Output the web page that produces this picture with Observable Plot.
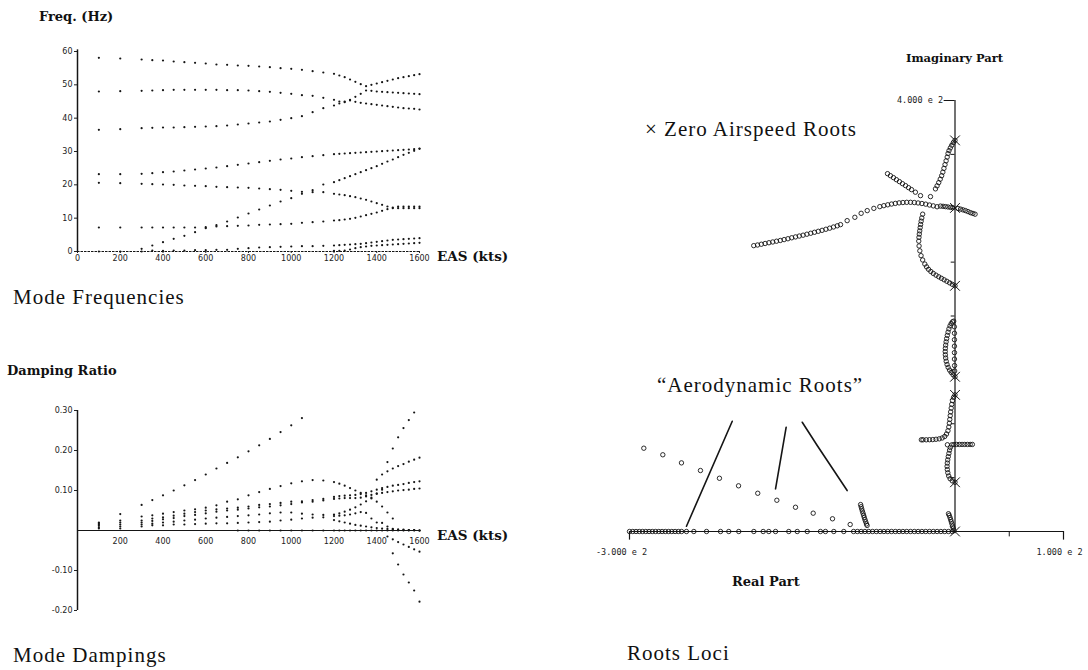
<!DOCTYPE html>
<html><head><meta charset="utf-8">
<script src="https://cdn.jsdelivr.net/npm/d3@7"></script>
<script src="https://cdn.jsdelivr.net/npm/@observablehq/plot@0.6"></script>
<style>
html,body{margin:0;padding:0;background:#fff;}
#page{position:relative;width:1088px;height:670px;overflow:hidden;background:#fff;}
#page > svg{position:absolute;}
</style></head><body><div id="page"></div>
<script>
// ---------- shared airspeeds (kts) ----------
const speeds = [100,200,300,350,400,450,500,550,600,650,700,750,800,850,900,950,1000,1050,1100,1150,
  1200,1225,1250,1275,1300,1325,1350,1375,1400,1425,1450,1475,1500,1525,1550,1575,1600];
const easTicks = [0,200,400,600,800,1000,1200,1400,1600];
const easTicksDamp = [200,400,600,800,1000,1200,1400,1600];

// ---------- mode frequencies (Hz) ----------
const freqA = [58.1,57.9,57.6,57.4,57.3,57.0,56.8,56.6,56.4,56.1,56.0,55.8,55.7,55.5,55.3,55.0,54.8,54.5,54.1,53.7,
  53.3,52.8,52.3,51.6,50.9,50.2,49.6,50.0,50.4,50.8,51.2,51.6,52.0,52.3,52.6,52.9,53.2];
const freqB = [48.0,48.1,48.2,48.3,48.4,48.5,48.5,48.5,48.5,48.5,48.4,48.4,48.3,48.1,47.9,47.6,47.3,46.9,46.7,46.1,
  45.5,45.0,44.8,45.5,46.4,47.3,48.3,48.2,48.0,47.9,47.8,47.7,47.6,47.5,47.4,47.3,47.2];
const freqC = [36.5,36.7,37.0,37.1,37.2,37.2,37.3,37.4,37.5,37.6,37.8,38.1,38.4,38.7,39.0,39.5,40.0,40.6,41.8,43.0,
  43.8,44.4,45.0,45.3,44.9,44.6,44.4,44.2,44.0,43.8,43.6,43.4,43.2,43.0,42.9,42.8,42.6];
const freqD = [23.2,23.2,23.3,23.5,23.8,24.0,24.3,24.6,24.9,25.2,25.6,26.0,26.4,26.8,27.2,27.6,27.9,28.3,28.6,28.9,
  29.2,29.3,29.4,29.5,29.6,29.7,29.8,29.9,30.0,30.1,30.2,30.3,30.4,30.5,30.6,30.7,30.9];
const freqE = [20.6,20.5,20.3,20.2,20.1,20.0,19.8,19.7,19.6,19.4,19.3,19.2,19.1,18.9,18.7,18.5,18.2,17.9,17.8,17.8,
  17.3,17.1,16.9,16.6,16.3,15.9,15.5,15.0,14.5,14.0,13.5,13.0,13.0,13.0,13.0,13.0,13.0];
const freqF = [null,null,0.8,1.8,2.8,3.8,4.7,5.8,7.0,7.9,9.0,10.2,11.4,12.6,13.8,15.0,16.0,17.3,18.4,20.1,
  20.8,21.4,22.0,22.6,23.2,23.8,24.4,25.0,25.6,26.3,27.0,27.6,28.3,29.0,29.6,30.2,30.8];
const freqG = [7.2,7.2,7.2,7.2,7.2,7.2,7.2,7.2,7.3,7.5,7.6,7.7,7.8,8.0,8.1,8.2,8.3,8.6,8.8,9.0,
  9.3,9.4,9.6,9.8,10.1,10.5,10.9,11.3,11.7,12.2,12.7,13.2,13.5,13.5,13.5,13.5,13.5];
const freqH = [0.0,0.0,0.0,0.3,0.2,0.3,0.3,0.4,0.4,0.5,0.5,0.8,1.0,1.2,1.3,1.4,1.5,1.6,1.6,1.7,
  1.8,1.9,2.0,2.1,2.2,2.3,2.5,2.7,2.9,3.1,3.3,3.5,3.6,3.7,3.8,3.9,4.0];
const freqI = [null,null,null,null,null,null,null,null,null,null,null,null,null,null,null,null,null,null,null,null,
  0.2,0.2,0.3,0.6,1.0,1.3,1.5,1.7,1.8,1.9,2.0,2.1,2.2,2.3,2.4,2.5,2.6];
const freqTicks = [0,10,20,30,40,50,60];

// ---------- mode damping ratios ----------
const damp1 = [0.020,0.041,0.064,0.076,0.088,0.100,0.113,0.126,0.140,0.155,0.169,0.183,0.198,0.213,0.229,0.246,0.263,0.281,null,null,
  null,null,null,null,null,null,null,null,null,null,null,null,null,null,null,null,null];
const damp2 = [0.018,0.025,0.035,0.038,0.042,0.046,0.050,0.053,0.057,0.063,0.072,0.078,0.088,0.096,0.104,0.111,0.118,0.123,0.126,0.125,
  0.121,0.117,0.112,0.106,0.100,0.094,0.088,0.080,0.072,0.060,0.045,0.030,null,null,null,null,null];
const damp3 = [0.015,0.020,0.025,0.030,0.033,0.037,0.042,0.046,0.050,0.053,0.055,0.057,0.060,0.064,0.066,0.069,0.072,0.073,0.076,0.079,
  0.084,0.086,0.087,0.088,0.089,0.091,0.094,0.098,0.102,0.106,0.109,0.112,0.114,0.116,0.119,0.121,0.123];
const damp4 = [0.012,0.015,0.020,0.024,0.028,0.031,0.036,0.039,0.043,0.047,0.050,0.052,0.055,0.058,0.060,0.063,0.066,0.070,0.072,0.075,
  0.079,0.080,0.081,0.081,0.081,0.082,0.085,0.089,0.092,0.094,0.096,0.098,0.100,0.101,0.102,0.104,0.105];
const damp5 = [0.008,0.010,0.015,0.017,0.020,0.022,0.025,0.027,0.030,0.032,0.034,0.036,0.038,0.040,0.043,0.045,0.045,0.042,0.040,0.039,
  0.040,0.043,0.047,0.052,0.058,0.065,0.073,0.082,0.092,0.102,null,null,null,null,null,null,null];
const damp6 = [0.005,0.005,0.010,0.013,0.013,0.015,0.015,0.016,0.017,0.018,0.018,0.019,0.020,0.021,0.022,0.025,0.027,0.030,0.032,0.033,
  0.036,0.037,0.038,0.040,0.043,0.046,0.044,0.030,0.020,0.019,0.010,0.004,0.002,0.001,0.001,0.001,0.000];
const damp7 = [null,null,null,null,null,null,null,null,null,null,null,null,null,null,null,null,null,null,null,null,
  0.026,0.023,0.020,0.017,0.014,0.012,0.010,0.008,0.006,0.005,0.004,0.003,0.002,0.002,0.001,0.001,0.000];
const dampZero = [null,null,null,null,null,null,null,null,null,null,null,0,0,0,0,0,0,0,0,0,
  0,0,0,0,0,0,0,0,0,0,0,0,0,0,0,0,0];
const dampUpper = [null,null,null,null,null,null,null,null,null,null,null,null,null,null,null,null,null,null,null,null,
  null,null,null,null,null,null,null,null,0.127,0.140,0.148,0.155,0.161,0.166,0.172,0.177,0.182];
const dampSteep = [null,null,null,null,null,null,null,null,null,null,null,null,null,null,null,null,null,null,null,null,
  null,null,null,null,null,null,null,null,null,null,0.171,0.205,0.233,0.256,0.276,0.295,null];
const dampNegGentle = [null,null,null,null,null,null,null,null,null,null,null,null,null,null,null,null,null,null,null,null,
  null,null,null,null,null,null,null,null,null,null,-0.015,-0.022,-0.029,-0.035,-0.041,-0.047,-0.053];
const dampNegSteep = [null,null,null,null,null,null,null,null,null,null,null,null,null,null,null,null,null,null,null,null,
  null,null,null,null,null,null,null,null,null,null,null,-0.057,-0.085,-0.110,-0.130,-0.150,-0.178];
const dampTicks = [-0.2,-0.1,0.1,0.2,0.3];
const dampTickLabels = ["-0.20","-0.10","0.10","0.20","0.30"];

// ---------- root loci (real, imaginary) ----------
const zeroAirspeedRoots = [363,300.3,228,143.6,126.8,45.7,0];
const branch1 = [[0,363],[-1.5,361],[-3,358.5],[-4.3,356],[-5.5,353.5],[-6.4,350.8],[-7.2,347.5],[-8.2,344],[-9.2,340.5],
  [-10.2,337],[-11.2,333.5],[-12.3,330.2],[-13.6,327],[-15,323.8],[-16.5,320.8],[-18,318],[-22.6,310.8]];
const branch2 = [[-62.2,332.1],[-59.5,330.2],[-56.7,328.4],[-54,326.5],[-51.2,324.7],[-48.4,322.8],[-45.6,321],
  [-42.8,319.1],[-40.1,317.3],[-36.5,314.9],[-31.8,311.7]];
const branch3 = [[-185.5,265.3],[-182,265.9],[-178.5,266.6],[-175,267.3],[-171.5,268.0],[-168,268.7],[-164.5,269.4],
  [-161,270.1],[-157.5,270.9],[-154,271.7],[-150.5,272.6],[-147,273.4],[-143.5,274.2],[-140,275.0],[-136.5,275.9],
  [-133,276.8],[-129.5,277.7],[-126,278.6],[-122.5,279.5],[-119,280.5],[-115.5,281.5],[-112,282.6],[-108.5,283.7],
  [-105.5,284.8],[-99.4,288.5],[-92.3,291.6],[-86.5,295.3],[-80.9,297.8],[-74.8,299.9],[-69.3,301.5],
  [-65.6,302.4],[-62,303.2],[-58.5,303.9],[-55,304.5],[-51.5,305],[-48,305.3],[-44.5,305.5],[-41,305.5],
  [-37.5,305.3],[-34,304.9],[-30.5,304.4],[-27,303.8],[-23.5,303.0],[-20,302.2],[-16.5,301.4]];
const branch4 = [[-13.4,302],[-11,301.8],[-8.8,301.5],[-6.5,301.2],[-4.1,300.8],[-2,300.5],[2.8,299.8],[5.1,299.2],
  [7.4,298.5],[9.7,297.8],[12,296.9],[14.3,295.9],[16.5,295.2],[18.5,294.5]];
const branch5 = [[0,228],[-2.5,229.4],[-5,230.8],[-7.5,232.2],[-10,233.6],[-12.5,235],[-15,236.4],[-17.5,237.9],
  [-20,239.5],[-22.3,241.3],[-24.4,243.3],[-26.2,245.6],[-27.8,248.2],[-29.8,252],[-31.3,256],[-32.4,260.5],
  [-33.1,265],[-33.4,269.5],[-33.2,273],[-32.9,276],[-32.5,279],[-32.1,282],[-31.7,285],[-31.2,288],[-30.6,291],[-29.8,294.5]];
const branch6 = [[0,143.6],[-1.8,145.5],[-3.5,147.6],[-5,149.8],[-6.3,152.3],[-7.3,155],[-8.1,158],[-8.6,161],[-8.9,164],
  [-9,167],[-8.9,170],[-8.6,173],[-8.2,176],[-7.7,179],[-7.1,182],[-6.4,185],[-5.6,188],[-4.6,190.8],[-3.5,193],
  [-2.3,194.6],[-1.2,195.2],[-0.6,190],[-0.5,184],[-0.5,178],[-0.5,172],[-0.5,166],[-0.5,160],[-0.4,154],[-0.3,149]];
const branch7 = [[0,126.8],[-1.3,124.5],[-2.3,121.5],[-3,118],[-3.5,114.5],[-4,111],[-4.4,107.5],[-4.8,104],[-5.2,100.5],
  [-5.7,97],[-6.5,93.5],[-7.8,90.5],[-9.5,88.2],[-11.8,86.8],[-14.5,86],[-17.5,85.6],[-20.5,85.3],[-23.5,85.2],
  [-26.5,85.1],[-29.5,85.1],[-31,85.1]];
const branch8 = [[0,45.7],[-2.5,47],[-4.5,49],[-5.8,51.5],[-6.6,54.5],[-7.1,57.5],[-7.3,60.5],[-7.1,63.5],[-6.7,66.5],
  [-6.2,69.5],[-5.6,72.5],[-5,75.5],[-4.3,78],[-7,80.5],[-3,80.4],[-1,80.7],[1.5,80.8],[4,80.8],[6.5,80.8],[9,80.8],
  [11.5,80.8],[14,80.8],[16,80.8]];
const branch9 = [[-1,1],[-1.6,3],[-2.2,5],[-2.8,7],[-3.4,9],[-4,11],[-4.6,13],[-5.3,15],[-6,16.5]];
const realAxisRoots = [-300,-297,-294,-291,-288,-285,-282,-279,-276,-273,-270,-267,-264,-261,-258,-255,-252,
  -247.5,-240.7,-229,-216.1,-208.5,-199.3,-185.4,-176.8,-171.6,-165.4,-153.2,-145.4,-136.2,-124,-119.4,-111.7,-102.5,
  -93.5,-90,-86.5,-83,-79.5,-76,-72.5,-69,-65.5,-62,-58.5,-55,-51.5,-48,-44.5,-41,-37.5,-34,-30.5,-27,-23.5,-20,
  -16.5,-13,-9.5,-6,-2.5];
const aeroRoots = [[-286.8,77.3],[-269.3,71.2],[-252.1,63.7],[-234.6,56.6],[-217.1,49.4],[-199.5,42.4],[-181.8,35.5],
  [-164.2,29.0],[-147,22.5],[-130.7,17.0],[-112.9,11.8],[-96.6,6.5]];
const aeroRootsDense = [[-87,25],[-86.5,23],[-86,21],[-85.4,19],[-84.8,17],[-84.2,15],[-83.6,13],[-83,11],[-82.3,9],
  [-81.6,7],[-81,5.6]];
const pointer1 = [[-205.3,102.3],[-247.5,4.9]];
const pointer2 = [[-155.6,96.8],[-165.4,39.6]];
const pointer3 = [[-140.8,101.4],[-127,79.8],[-99.4,38.0]];
const imTicks = [50,100,150,200,250,300,350];
const rootAxisLabels = ["-3.000 e 2","1.000 e 2","4.000 e 2"];

// ---------- build ----------
const page = document.getElementById("page");
const ink = "#151515";

function rowsFrom(seriesList, key) {
  return seriesList.flatMap(arr => arr.map((v, i) => ({eas: speeds[i], [key]: v})).filter(d => d[key] != null));
}
function place(el, left, top) { el.style.left = left + "px"; el.style.top = top + "px"; page.appendChild(el); }

const tickStyle = {fontFamily: "DejaVu Sans", fontSize: "8px", color: "#222", background: "transparent", overflow: "visible"};

// Panel 1: frequencies
const freqRows = rowsFrom([freqA,freqB,freqC,freqD,freqE,freqF,freqG,freqH,freqI], "f");
const freqPlot = Plot.plot({
  width: 530, height: 240, marginLeft: 77, marginRight: 111, marginTop: 11, marginBottom: 29,
  x: {domain: [0,1600]}, y: {domain: [0,60]},
  style: tickStyle,
  marks: [
    Plot.axisY({ticks: freqTicks, tickSize: 3, tickPadding: 2, label: null, tickFormat: d => String(d)}),
    Plot.axisX({ticks: easTicks, tickSize: 2, tickPadding: 2, label: null, tickFormat: d => String(d)}),
    Plot.ruleY([0], {x1: 0, x2: 1600, stroke: ink, strokeWidth: 1, strokeDasharray: "2.5,1"}),
    Plot.ruleX([0], {y1: 0, y2: 60.5, stroke: ink, strokeWidth: 1.5}),
    Plot.dot(freqRows, {x: "eas", y: "f", r: 1.1, fill: ink, stroke: "none"})
  ]
});
place(freqPlot, 0, 40);

// Panel 2: dampings
const dampRows = rowsFrom([damp1,damp2,damp3,damp4,damp5,damp6,damp7,dampZero,dampUpper,dampSteep,dampNegGentle,dampNegSteep], "z");
const dampPlot = Plot.plot({
  width: 530, height: 230, marginLeft: 77, marginRight: 111, marginTop: 15, marginBottom: 15,
  x: {domain: [0,1600], axis: null}, y: {domain: [-0.2,0.3]},
  style: tickStyle,
  marks: [
    Plot.axisY({ticks: dampTicks, tickSize: 3, tickPadding: 2, label: null,
      tickFormat: d => dampTickLabels[dampTicks.indexOf(d)]}),
    Plot.text(easTicksDamp, {x: d => d, y: 0, dy: 11, text: d => String(d), fill: "#222"}),
    Plot.ruleY([0], {x1: 0, x2: 1600, stroke: ink, strokeWidth: 1}),
    Plot.ruleX([0], {y1: -0.2, y2: 0.3, stroke: ink, strokeWidth: 1.5}),
    Plot.dot(dampRows, {x: "eas", y: "z", r: 1.1, fill: ink, stroke: "none"})
  ]
});
place(dampPlot, 0, 395);

// Panel 3: root loci
const locusRows = [branch1,branch2,branch3,branch4,branch5,branch6,branch7,branch8,branch9,aeroRoots,aeroRootsDense]
  .flatMap(b => b.map(([re, im]) => ({re, im})))
  .concat(realAxisRoots.map(re => ({re, im: 0})));
const zeroRows = zeroAirspeedRoots.map(im => ({re: 0, im}));
const pointerRows = [pointer1, pointer2, pointer3].flatMap((p, k) => p.map(([re, im]) => ({re, im, k})));
const rootPlot = Plot.plot({
  width: 508, height: 480, marginLeft: 49, marginRight: 25, marginTop: 20, marginBottom: 29,
  x: {domain: [-300,100], axis: null}, y: {domain: [0,400], axis: null},
  style: {fontFamily: "DejaVu Sans Mono", fontSize: "8.5px", color: "#222", background: "transparent", overflow: "visible"},
  marks: [
    Plot.ruleX([0], {y1: -2, y2: 400, stroke: ink, strokeWidth: 1.2}),
    Plot.ruleY([0], {x1: -300, x2: 100, stroke: ink, strokeWidth: 1.2}),
    Plot.ruleY(imTicks, {x1: -3.5, x2: 0, stroke: ink, strokeWidth: 1}),
    Plot.ruleY([400], {x1: -10, x2: 0, stroke: ink, strokeWidth: 1}),
    Plot.ruleX([-300, 100], {y1: -8, y2: 0, stroke: ink, strokeWidth: 1.2}),
    Plot.ruleX([50], {y1: -5, y2: 0, stroke: ink, strokeWidth: 1}),
    Plot.text([rootAxisLabels[0]], {x: -300, y: 0, dx: -8, dy: 21, text: d => d}),
    Plot.text([rootAxisLabels[1]], {x: 100, y: 0, dx: -4, dy: 21, text: d => d}),
    Plot.text([rootAxisLabels[2]], {x: -11, y: 400, textAnchor: "end", text: d => d}),
    Plot.line(pointerRows, {x: "re", y: "im", z: "k", stroke: ink, strokeWidth: 1.6}),
    Plot.dot(locusRows, {x: "re", y: "im", r: 2.2, stroke: ink, fill: "none", strokeWidth: 0.9}),
    Plot.dot(zeroRows, {x: "re", y: "im", symbol: "times", r: 4.5, stroke: ink, strokeWidth: 1})
  ]
});
place(rootPlot, 580, 80);

// Text overlay (titles and annotations)
const overlay = d3.create("svg").attr("width", 1088).attr("height", 670)
  .style("position", "absolute").style("left", "0px").style("top", "0px").style("pointer-events", "none");
function label(str, x, y, family, size, weight, spacing) {
  overlay.append("text").attr("x", x).attr("y", y).attr("font-family", family).attr("font-size", size)
    .attr("font-weight", weight).attr("letter-spacing", spacing).attr("fill", "#111").text(str);
}
const bold = "DejaVu Serif", roman = "Liberation Serif";
label("Freq. (Hz)", 39, 21, bold, 13, "bold", 0);
label("EAS (kts)", 437, 261, bold, 13.5, "bold", 0);
label("Mode Frequencies", 13, 304, roman, 21, "normal", 1);
label("Damping Ratio", 7, 375, bold, 13, "bold", 0);
label("EAS (kts)", 437, 540, bold, 13.5, "bold", 0);
label("Mode Dampings", 13, 662, roman, 21, "normal", 1);
label("Imaginary Part", 906, 62, bold, 11.5, "bold", 0);
label("Real Part", 732, 586, bold, 13, "bold", 0);
label("× Zero Airspeed Roots", 645, 136, roman, 21, "normal", 1);
label("“Aerodynamic Roots”", 657, 392, roman, 21, "normal", 1);
label("Roots Loci", 627, 660, roman, 21, "normal", 1);
page.appendChild(overlay.node());
</script>
</body></html>
